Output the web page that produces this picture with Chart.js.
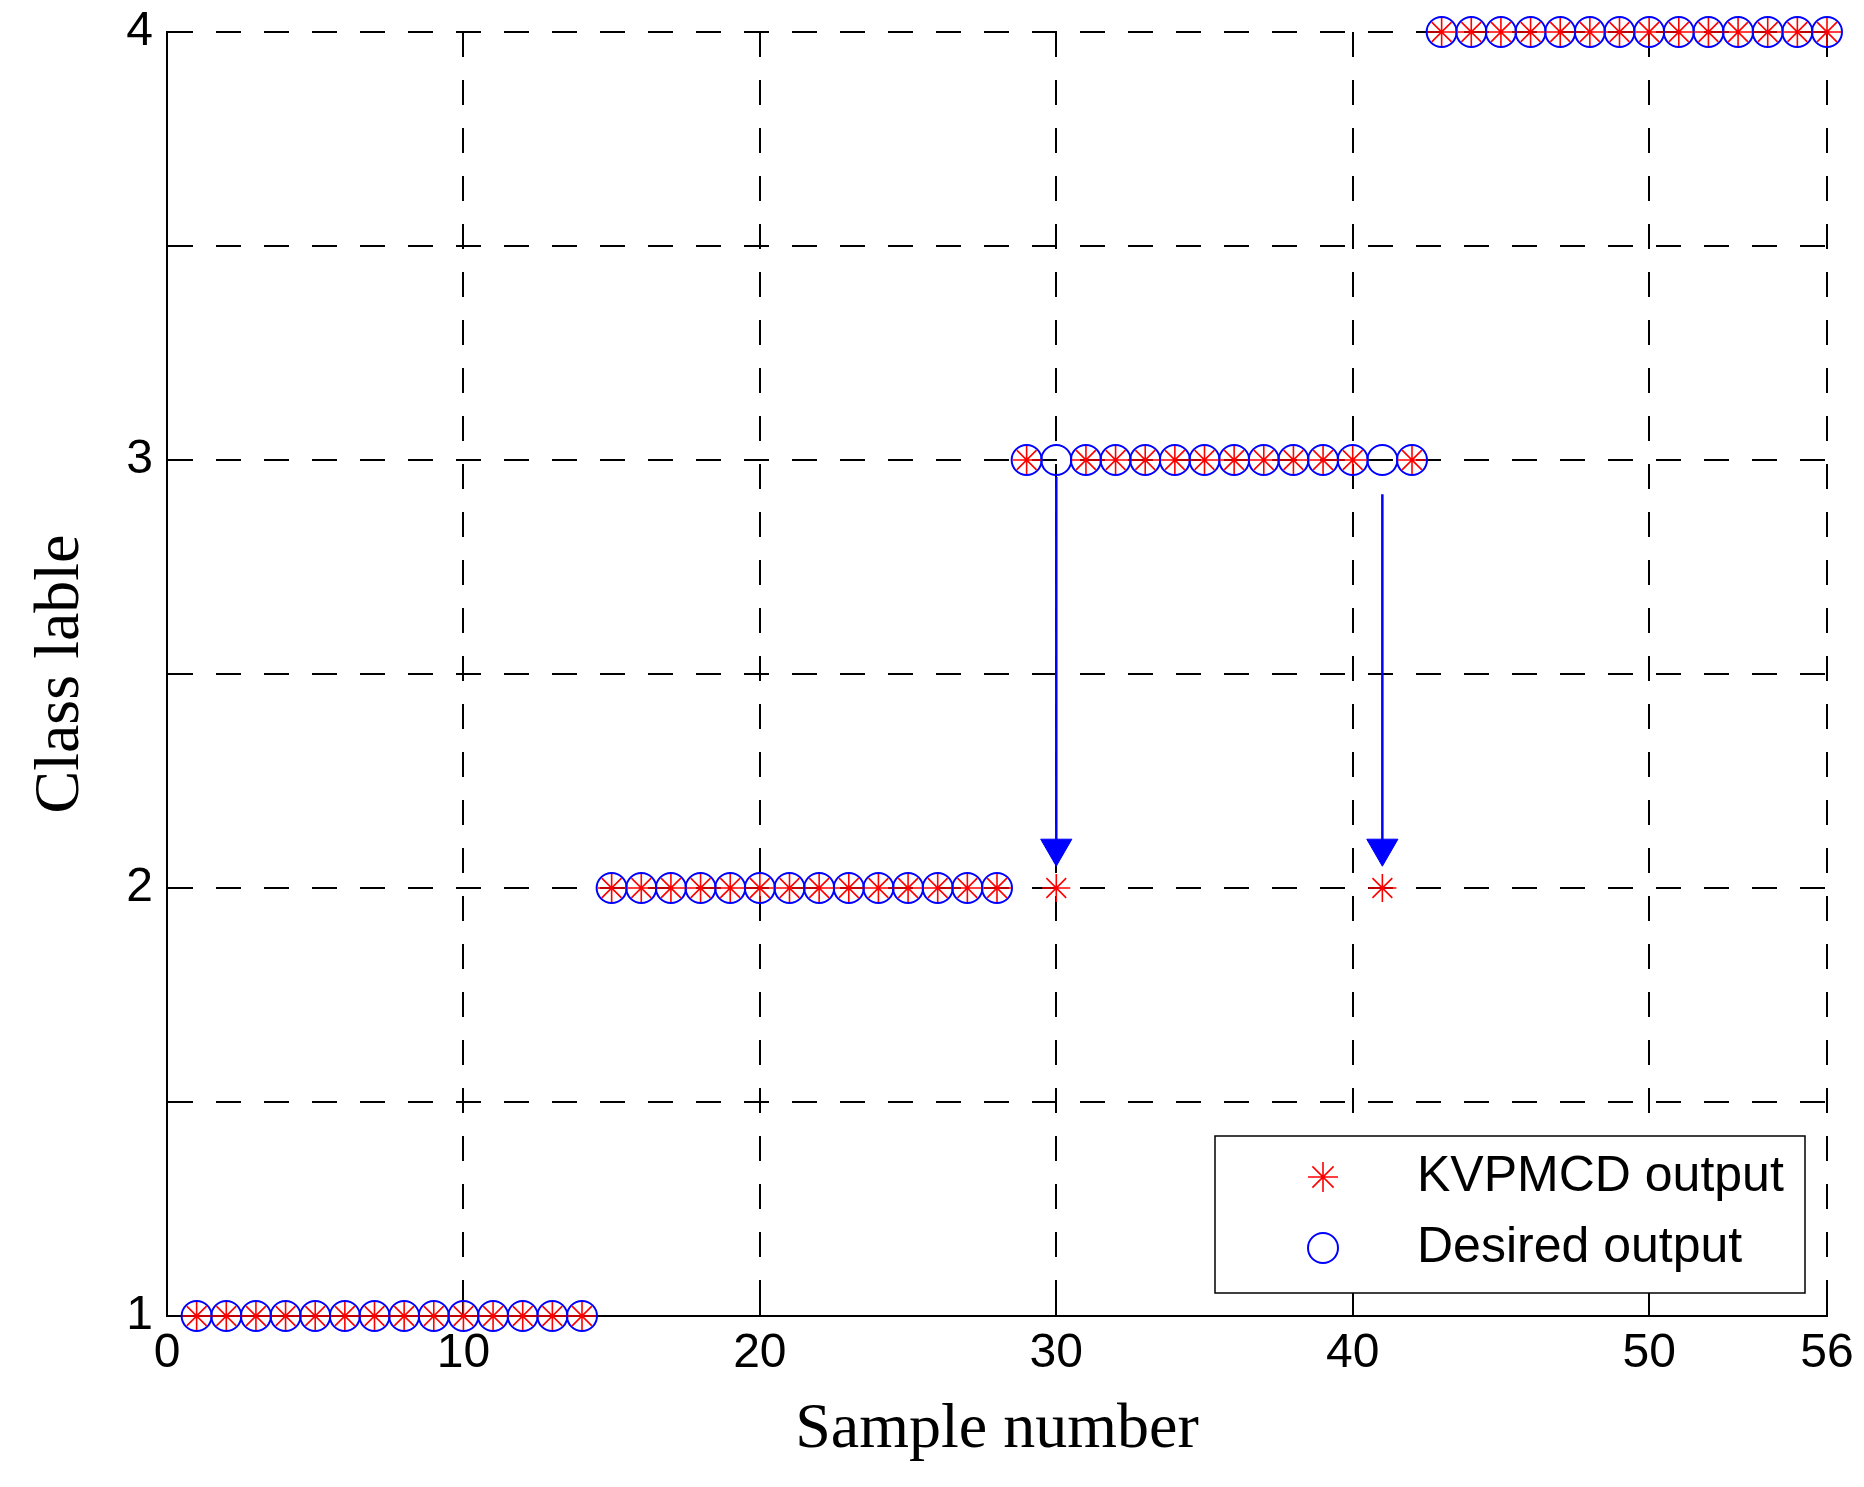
<!DOCTYPE html>
<html>
<head>
<meta charset="utf-8">
<title>Class lable</title>
<script src="https://cdn.jsdelivr.net/npm/chart.js@4.4.1/dist/chart.umd.min.js"></script>
<style>
    html, body { margin: 0; padding: 0; background: #fff; }
    #wrap { width: 1864px; height: 1487px; }
</style>
</head>
<body>
<div id="wrap"><canvas id="grafico" width="1864" height="1487"></canvas></div>
<script>
// valores
const sampleNumbers = [1, 2, 3, 4, 5, 6, 7, 8, 9, 10, 11, 12, 13, 14,
    15, 16, 17, 18, 19, 20, 21, 22, 23, 24, 25, 26, 27, 28,
    29, 30, 31, 32, 33, 34, 35, 36, 37, 38, 39, 40, 41, 42,
    43, 44, 45, 46, 47, 48, 49, 50, 51, 52, 53, 54, 55, 56];
const desiredOutput = [1, 1, 1, 1, 1, 1, 1, 1, 1, 1, 1, 1, 1, 1,
    2, 2, 2, 2, 2, 2, 2, 2, 2, 2, 2, 2, 2, 2,
    3, 3, 3, 3, 3, 3, 3, 3, 3, 3, 3, 3, 3, 3,
    4, 4, 4, 4, 4, 4, 4, 4, 4, 4, 4, 4, 4, 4];
const kvpmcdOutput = [1, 1, 1, 1, 1, 1, 1, 1, 1, 1, 1, 1, 1, 1,
    2, 2, 2, 2, 2, 2, 2, 2, 2, 2, 2, 2, 2, 2,
    3, 2, 3, 3, 3, 3, 3, 3, 3, 3, 3, 3, 2, 3,
    4, 4, 4, 4, 4, 4, 4, 4, 4, 4, 4, 4, 4, 4];

const xTicks = [0, 10, 20, 30, 40, 50, 56];
const yTicks = [1, 1.5, 2, 2.5, 3, 3.5, 4];

// setas dos erros de classificacao
const arrowX = [30, 41];
const arrowFrom = [2.96, 2.92];
const arrowTo = [2.093, 2.093];

const seriesLabels = ['KVPMCD output', 'Desired output'];

function pontos(xs, ys) {
    return xs.map((x, i) => ({ x: x, y: ys[i] }));
}

const arrowSets = arrowX.map((x, i) => ({
    label: 'arrow' + i,
    data: [{ x: x, y: arrowFrom[i] }, { x: x, y: arrowTo[i] }],
    showLine: true,
    clip: false,
    borderColor: '#0000ff',
    borderWidth: 2.5,
    pointRadius: [0, 18],
    pointStyle: 'triangle',
    pointRotation: 180,
    pointBackgroundColor: '#0000ff',
    pointBorderColor: '#0000ff',
    pointBorderWidth: 1
}));

// ticks para dentro, como no matlab
const ticksInternos = {
    id: 'ticksInternos',
    beforeDatasetsDraw(chart) {
        const ctx = chart.ctx;
        const area = chart.chartArea;
        const len = 16;
        ctx.save();
        ctx.strokeStyle = '#000';
        ctx.lineWidth = 2;
        ctx.beginPath();
        xTicks.forEach(v => {
            const px = Math.round(chart.scales.x.getPixelForValue(v));
            ctx.moveTo(px, area.bottom);
            ctx.lineTo(px, area.bottom - len);
        });
        yTicks.forEach(v => {
            const py = Math.round(chart.scales.y.getPixelForValue(v));
            ctx.moveTo(area.left, py);
            ctx.lineTo(area.left + len, py);
        });
        ctx.stroke();
        ctx.restore();
    }
};

// legenda dentro da area, canto inferior direito
const legendaCaixa = {
    id: 'legendaCaixa',
    afterDatasetsDraw(chart) {
        const ctx = chart.ctx;
        const area = chart.chartArea;
        const w = 590, h = 157;
        const x0 = area.right - 22 - w;
        const y0 = area.bottom - 23 - h;
        ctx.save();
        ctx.fillStyle = '#fff';
        ctx.fillRect(x0, y0, w, h);
        ctx.strokeStyle = '#000';
        ctx.lineWidth = 1.5;
        ctx.strokeRect(x0, y0, w, h);

        const rows = [y0 + 41, y0 + 112];
        const mx = x0 + 108;
        const tx = x0 + 202;
        [0, 1].forEach(i => {
            const ds = chart.data.datasets[i];
            ctx.strokeStyle = ds.borderColor;
            ctx.fillStyle = ds.backgroundColor;
            ctx.lineWidth = ds.borderWidth;
            Chart.helpers.drawPoint(ctx, {
                pointStyle: ds.pointStyle,
                radius: 15,
                rotation: 0,
                borderWidth: ds.borderWidth
            }, mx, rows[i]);
            ctx.fillStyle = '#000';
            ctx.font = '50px "Liberation Sans", Arial, sans-serif';
            ctx.textAlign = 'left';
            ctx.textBaseline = 'middle';
            ctx.fillText(ds.label, tx, rows[i]);
        });
        ctx.restore();
    }
};

Chart.defaults.font.family = '"Liberation Sans", Arial, sans-serif';
Chart.defaults.color = '#000';

const ctxGrafico = document.getElementById('grafico').getContext('2d');
const grafico = new Chart(ctxGrafico, {
    type: 'scatter',
    data: {
        datasets: [{
            label: seriesLabels[0],
            data: pontos(sampleNumbers, kvpmcdOutput),
            clip: false,
            pointStyle: 'star',
            pointRadius: 14,
            borderColor: '#ff0000',
            backgroundColor: '#ff0000',
            borderWidth: 1.6
        }, {
            label: seriesLabels[1],
            data: pontos(sampleNumbers, desiredOutput),
            clip: false,
            pointStyle: 'circle',
            pointRadius: 15,
            borderColor: '#0000ff',
            backgroundColor: 'rgba(0,0,0,0)',
            borderWidth: 2
        }].concat(arrowSets)
    },
    options: {
        responsive: false,
        devicePixelRatio: 1,
        animation: false,
        events: [],
        layout: { autoPadding: false, padding: { left: 0, top: 32, right: 37, bottom: 0 } },
        plugins: {
            legend: { display: false },
            tooltip: { enabled: false }
        },
        scales: {
            x: {
                type: 'linear',
                position: 'bottom',
                min: 0,
                max: 56,
                afterBuildTicks: s => { s.ticks = xTicks.map(v => ({ value: v })); },
                afterFit: s => { s.height = 171; s.paddingLeft = 0; s.paddingRight = 0; },
                ticks: {
                    font: { size: 48 },
                    color: '#000',
                    padding: 9,
                    maxRotation: 0,
                    autoSkip: false
                },
                grid: { color: '#000', lineWidth: 2, drawTicks: false },
                border: { display: true, color: '#000', width: 2, dash: [25, 23] },
                title: {
                    display: true,
                    text: 'Sample number',
                    color: '#000',
                    font: { family: '"Liberation Serif", "Times New Roman", serif', size: 64 },
                    padding: { top: 0, bottom: 18 }
                }
            },
            y: {
                type: 'linear',
                position: 'left',
                min: 1,
                max: 4,
                afterBuildTicks: s => { s.ticks = yTicks.map(v => ({ value: v })); },
                afterFit: s => { s.width = 167; s.paddingTop = 0; s.paddingBottom = 0; },
                ticks: {
                    font: { size: 48 },
                    color: '#000',
                    padding: 14,
                    callback: v => Number.isInteger(v) ? String(v) : ''
                },
                grid: { color: '#000', lineWidth: 2, drawTicks: false },
                border: { display: true, color: '#000', width: 2, dash: [25, 23] },
                title: {
                    display: true,
                    text: 'Class lable',
                    color: '#000',
                    font: { family: '"Liberation Serif", "Times New Roman", serif', size: 64 },
                    padding: { top: 23, bottom: 0 }
                }
            }
        }
    },
    plugins: [ticksInternos, legendaCaixa]
});
</script>
</body>
</html>
